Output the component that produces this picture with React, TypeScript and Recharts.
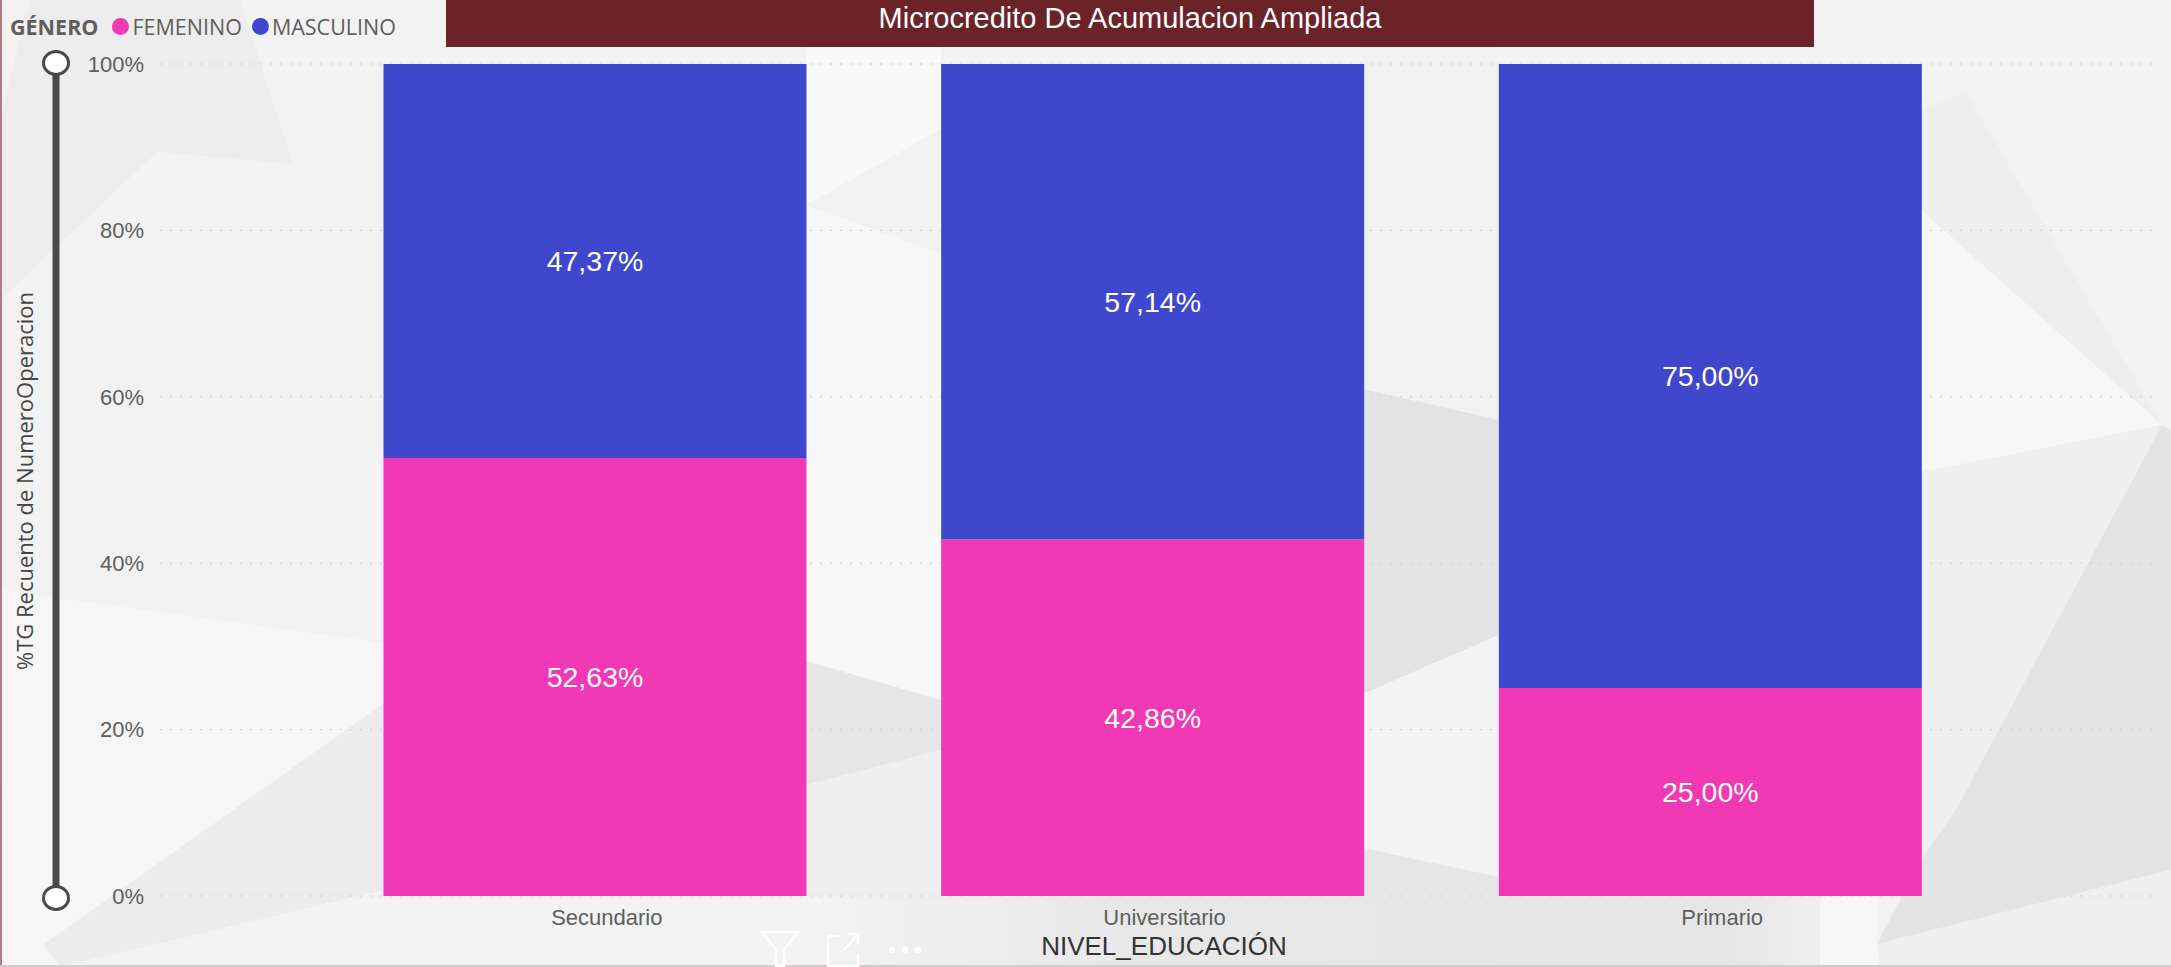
import React from 'react';
import { BarChart, Bar, XAxis, YAxis, CartesianGrid, LabelList } from 'recharts';

const categories = ['Secundario', 'Universitario', 'Primario'];
const femenino = [52.63, 42.86, 25.0];
const masculino = [47.37, 57.14, 75.0];
const yTicks = [0, 20, 40, 60, 80, 100];

const chartData = categories.map((nivel, i) => ({
  nivel,
  femenino: femenino[i],
  masculino: masculino[i],
}));

const PINK = '#F239B5';
const BLUE = '#3F48CC';
const LABEL_FONT = '"Liberation Sans", Arial, sans-serif';
const SEGOE_LIKE = '"Open Sans", "Noto Sans", sans-serif';

const fmtPct = (v: any) => Number(v).toFixed(2).replace('.', ',') + '%';

// faint low-poly wallpaper behind the visual
const shards: [string, string][] = [
  ['30,0 240,0 293,164 157,152 0,300 0,120', '#ededed'],
  ['0,590 384,643 384,703 43,945 0,760', '#f6f6f6'],
  ['43,945 384,703 806,661 806,785 384,890 60,967', '#ececec'],
  ['0,760 43,945 60,967 0,967', '#f6f6f6'],
  ['60,967 384,890 820,860 820,967', '#f3f3f3'],
  ['806,47 941,47 941,129 806,205', '#f9f9f9'],
  ['806,205 941,254 941,700 806,661', '#f7f7f7'],
  ['806,661 941,700 941,750 806,785', '#e6e6e6'],
  ['806,785 941,750 941,896 806,896', '#efefef'],
  ['820,896 1880,896 1880,967 820,967', 'url(#bottomFade)'],
  ['1363,47 1499,47 1499,420 1363,389', '#f1f1f1'],
  ['1363,389 1499,420 1499,635 1363,694', '#e3e3e3'],
  ['1363,694 1499,635 1499,877 1363,848', '#f3f3f3'],
  ['1363,848 1499,877 1499,896 1363,896', '#e6e6e6'],
  ['1966,92 2162,425 1921,210 1921,110', '#eeeeee'],
  ['1921,210 2162,425 1921,472', '#f7f7f7'],
  ['1921,472 2162,425 1957,808 1921,860', '#efefef'],
  ['2162,425 2171,430 2171,870 1877,944 1921,860 1957,808', '#e4e4e4'],
  ['1877,896 1877,944 1880,967 1820,967 1820,896', '#f7f7f7'],
  ['1877,944 2171,870 2171,967 1880,967', '#efefef'],
];

export default function App() {
  return (
    <div style={{ position: 'absolute', left: 0, top: 0, width: 2171, height: 967, overflow: 'hidden', background: '#f2f2f2' }}>
      <svg width={2171} height={967} style={{ position: 'absolute', left: 0, top: 0 }}>
        <defs>
          <linearGradient id="bottomFade" x1="0" x2="1" y1="0" y2="0">
            <stop offset="0" stopColor="#f2f2f2" />
            <stop offset="0.3" stopColor="#e8e8e8" />
            <stop offset="0.85" stopColor="#e6e6e6" />
            <stop offset="1" stopColor="#f4f4f4" />
          </linearGradient>
        </defs>
        {shards.map(([pts, fill], i) => (
          <polygon key={i} points={pts} fill={fill} />
        ))}
        <rect x={0} y={0} width={2} height={967} fill="#a97f85" />
        <rect x={0} y={965} width={2171} height={2} fill="#d9c9cf" />
      </svg>

      <div style={{ position: 'absolute', left: 0, top: 0 }}>
        <BarChart
          width={2171}
          height={967}
          data={chartData}
          barCategoryGap={67.5}
          margin={{ top: 64, right: 11, bottom: 41, left: 0 }}
        >
          <CartesianGrid horizontal vertical={false} stroke="#cfcfcf" strokeDasharray="2 8" />
          <XAxis
            dataKey="nivel"
            axisLine={false}
            tickLine={false}
            padding={{ left: 156, right: 171 }}
            tick={{ fill: '#605E5C', fontSize: 22, fontFamily: LABEL_FONT, dx: 12 }}
            tickMargin={7}
          />
          <YAxis
            width={160}
            domain={[0, 100]}
            ticks={yTicks}
            axisLine={false}
            tickLine={false}
            tickFormatter={(v: number) => v + '%'}
            tick={{ fill: '#605E5C', fontSize: 22, fontFamily: LABEL_FONT }}
            tickMargin={10}
          />
          <Bar dataKey="femenino" stackId="g" fill={PINK} isAnimationActive={false}>
            <LabelList dataKey="femenino" position="center" formatter={fmtPct} fill="#fff" fontSize={28.5} fontFamily={LABEL_FONT} />
          </Bar>
          <Bar dataKey="masculino" stackId="g" fill={BLUE} isAnimationActive={false}>
            <LabelList dataKey="masculino" position="center" formatter={fmtPct} fill="#fff" fontSize={28.5} fontFamily={LABEL_FONT} />
          </Bar>
        </BarChart>
      </div>

      {/* title banner */}
      <div style={{ position: 'absolute', left: 446, top: 0, width: 1368, height: 47, background: '#6B2328', color: '#fff', fontFamily: LABEL_FONT, fontSize: 29, lineHeight: '37px', textAlign: 'center' }}>
        Microcredito De Acumulacion Ampliada
      </div>

      {/* legend */}
      <div style={{ position: 'absolute', left: 10, top: 12, height: 28, display: 'flex', alignItems: 'center', fontFamily: SEGOE_LIKE, fontSize: 21.5, color: '#605E5C', whiteSpace: 'nowrap' }}>
        <span style={{ fontWeight: 700, marginRight: 14 }}>GÉNERO</span>
        <span style={{ width: 17, height: 17, borderRadius: '50%', background: PINK, marginRight: 3 }} />
        <span style={{ marginRight: 10 }}>FEMENINO</span>
        <span style={{ width: 17, height: 17, borderRadius: '50%', background: BLUE, marginRight: 3 }} />
        <span>MASCULINO</span>
      </div>

      {/* zoom slider on the value axis */}
      <svg width={80} height={967} style={{ position: 'absolute', left: 0, top: 0 }}>
        <line x1={56} x2={56} y1={63} y2={898} stroke="#4a4a4a" strokeWidth={7} />
        <ellipse cx={56} cy={63} rx={12.5} ry={11.5} fill="#fff" stroke="#4a4a4a" strokeWidth={3} />
        <ellipse cx={56} cy={898} rx={12.5} ry={11.5} fill="#fff" stroke="#4a4a4a" strokeWidth={3} />
      </svg>

      {/* axis titles */}
      <div style={{ position: 'absolute', left: 24, top: 481, transform: 'translate(-50%,-50%) rotate(-90deg)', fontFamily: SEGOE_LIKE, fontSize: 22, color: '#444', whiteSpace: 'nowrap' }}>
        %TG Recuento de NumeroOperacion
      </div>
      <div style={{ position: 'absolute', left: 1164, top: 946, transform: 'translate(-50%,-50%)', fontFamily: LABEL_FONT, fontSize: 26, color: '#333', whiteSpace: 'nowrap' }}>
        NIVEL_EDUCACIÓN
      </div>

      {/* hover icons of the visual */}
      <svg width={170} height={40} style={{ position: 'absolute', left: 760, top: 930 }} fill="none" stroke="#ffffff" strokeWidth={2.5}>
        <path d="M2 2 H38 L24 20 V36 H16 V20 Z" />
        <path d="M80 6 H68 V36 H98 V24 M84 20 L98 4 M88 4 H98 V14" />
        <circle cx={132} cy={20} r={2} fill="#fff" />
        <circle cx={145} cy={20} r={2} fill="#fff" />
        <circle cx={158} cy={20} r={2} fill="#fff" />
      </svg>
    </div>
  );
}
